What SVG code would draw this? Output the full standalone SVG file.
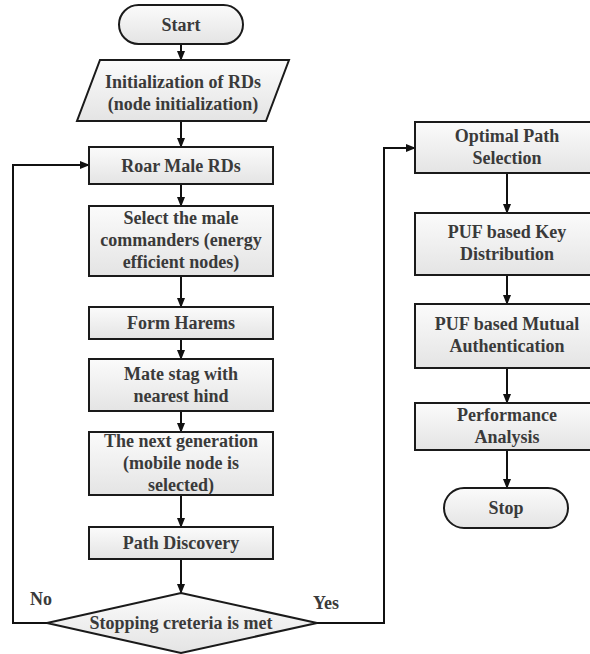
<svg xmlns="http://www.w3.org/2000/svg" width="590" height="654" viewBox="0 0 590 654">
<defs>
<linearGradient id="g" x1="0" y1="0" x2="0" y2="1">
<stop offset="0" stop-color="#fbfbfb"/>
<stop offset="1" stop-color="#e4e4e4"/>
</linearGradient>
<marker id="ah" markerWidth="10" markerHeight="8" refX="9" refY="4" orient="auto" markerUnits="userSpaceOnUse">
<path d="M0,0 L10,4 L0,8 Z" fill="#111"/>
</marker>
<style>
.n{fill:url(#g);stroke:#1a1a1a;stroke-width:2}
.t{font-family:"Liberation Serif","Times New Roman",serif;font-weight:bold;font-size:18px;fill:#3a3a3a;text-anchor:middle}
.c{fill:none;stroke:#111;stroke-width:2}
</style>
</defs>
<rect width="590" height="654" fill="#fff"/>
<g id="connectors">
<path class="c" d="M181,44 V60" marker-end="url(#ah)"/>
<path class="c" d="M181,121 V147" marker-end="url(#ah)"/>
<path class="c" d="M181,184 V206" marker-end="url(#ah)"/>
<path class="c" d="M181,276 V307" marker-end="url(#ah)"/>
<path class="c" d="M181,339 V359" marker-end="url(#ah)"/>
<path class="c" d="M181,411 V432" marker-end="url(#ah)"/>
<path class="c" d="M181,495 V527" marker-end="url(#ah)"/>
<path class="c" d="M181,559 V593" marker-end="url(#ah)"/>
<path class="c" d="M47,623 H13 V165 H89" marker-end="url(#ah)"/>
<path class="c" d="M317,623 H384 V148 H415" marker-end="url(#ah)"/>
<path class="c" d="M507,173 V213" marker-end="url(#ah)"/>
<path class="c" d="M507,275 V304" marker-end="url(#ah)"/>
<path class="c" d="M507,368 V403" marker-end="url(#ah)"/>
<path class="c" d="M507,450 V488" marker-end="url(#ah)"/>
<text class="t" x="41" y="605">No</text>
<text class="t" x="326" y="609">Yes</text>
</g>
<g id="start">
<rect class="n" x="119" y="5" width="124" height="39" rx="19.5"/>
<text class="t" x="181" y="31">Start</text>
</g>
<g id="init">
<polygon class="n" points="100,60 289,60 266,121 77,121"/>
<text class="t" x="183" y="88">Initialization of RDs</text>
<text class="t" x="183" y="110">(node initialization)</text>
</g>
<g id="roar">
<rect class="n" x="89" y="147" width="184" height="37"/>
<text class="t" x="181" y="172">Roar Male RDs</text>
</g>
<g id="select">
<rect class="n" x="89" y="206" width="184" height="70"/>
<text class="t" x="181" y="224">Select the male</text>
<text class="t" x="181" y="246">commanders (energy</text>
<text class="t" x="181" y="268">efficient nodes)</text>
</g>
<g id="harems">
<rect class="n" x="89" y="307" width="184" height="32"/>
<text class="t" x="181" y="329">Form Harems</text>
</g>
<g id="mate">
<rect class="n" x="89" y="359" width="184" height="52"/>
<text class="t" x="181" y="380">Mate stag with</text>
<text class="t" x="181" y="402">nearest hind</text>
</g>
<g id="nextgen">
<rect class="n" x="89" y="432" width="184" height="63"/>
<text class="t" x="181" y="447">The next generation</text>
<text class="t" x="181" y="469">(mobile node is</text>
<text class="t" x="181" y="491">selected)</text>
</g>
<g id="pathdisc">
<rect class="n" x="89" y="527" width="184" height="32"/>
<text class="t" x="181" y="549">Path Discovery</text>
</g>
<g id="decision">
<polygon class="n" points="181,593 317,623 181,653 47,623"/>
<text class="t" x="181" y="629">Stopping creteria is met</text>
</g>
<g id="optimal">
<rect class="n" x="415" y="122" width="184" height="51"/>
<text class="t" x="507" y="142">Optimal Path</text>
<text class="t" x="507" y="164">Selection</text>
</g>
<g id="keydist">
<rect class="n" x="415" y="213" width="184" height="62"/>
<text class="t" x="507" y="238">PUF based Key</text>
<text class="t" x="507" y="260">Distribution</text>
</g>
<g id="mutual">
<rect class="n" x="415" y="304" width="184" height="64"/>
<text class="t" x="507" y="330">PUF based Mutual</text>
<text class="t" x="507" y="352">Authentication</text>
</g>
<g id="perf">
<rect class="n" x="415" y="403" width="184" height="47"/>
<text class="t" x="507" y="421">Performance</text>
<text class="t" x="507" y="443">Analysis</text>
</g>
<g id="stop">
<rect class="n" x="444" y="488" width="124" height="40" rx="20"/>
<text class="t" x="506" y="514">Stop</text>
</g>
</svg>
